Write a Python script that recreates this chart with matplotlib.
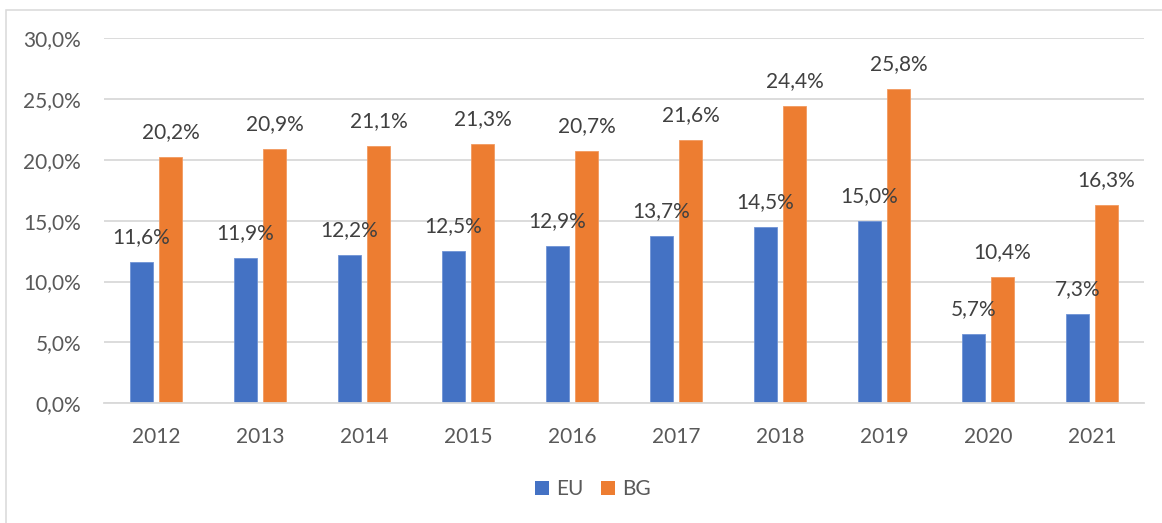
import matplotlib
matplotlib.use("Agg")
import matplotlib.pyplot as plt
from matplotlib.patches import Rectangle, Patch
import numpy as np

years = ["2012", "2013", "2014", "2015", "2016", "2017", "2018", "2019", "2020", "2021"]
eu = [11.6, 11.9, 12.2, 12.5, 12.9, 13.7, 14.5, 15.0, 5.7, 7.3]
bg = [20.2, 20.9, 21.1, 21.3, 20.7, 21.6, 24.4, 25.8, 10.4, 16.3]
yticks = [0, 5, 10, 15, 20, 25, 30]

BLUE = "#4472C4"
ORANGE = "#ED7D31"
GRID = "#D9D9D9"
TICK = "#595959"
LABEL = "#404040"

plt.rcParams["font.family"] = ["Lato", "DejaVu Sans"]

W, H = 1162, 523
fig = plt.figure(figsize=(W / 100, H / 100), dpi=100)

# chart area outline
fig.patches.append(Rectangle((5.5 / W, -0.2), 1.5, 1.2 - 9.5 / H + 0.0,
                             transform=fig.transFigure, fill=False,
                             edgecolor=GRID, linewidth=1.1))

left, right = 104 / W, 1144 / W
bottom, top = (H - 403.3) / H, (H - 37.9) / H
ax = fig.add_axes([left, bottom, right - left, top - bottom])

x = np.arange(len(years))
bw = 23 / 104
off = 14.5 / 104
b1 = ax.bar(x - off, eu, width=bw, color=BLUE, edgecolor="#6F93D6", linewidth=0.6, zorder=2, label="EU")
b2 = ax.bar(x + off, bg, width=bw, color=ORANGE, edgecolor="#F29A60", linewidth=0.6, zorder=2, label="BG")

def fmt(v):
    return f"{v:.1f}".replace(".", ",") + "%"

for bars, vals in ((b1, eu), (b2, bg)):
    for rect, v in zip(bars, vals):
        ax.annotate(fmt(v), (rect.get_x() + rect.get_width() / 2, v),
                    xytext=(0, 18), textcoords="offset points",
                    ha="center", va="center", fontsize=15, color=LABEL, zorder=5)

ax.set_xlim(-0.5, len(years) - 0.5)
ax.set_ylim(0, 30)
ax.set_yticks(yticks)
ax.set_yticklabels([f"{t},0%" for t in yticks])
ax.set_xticks(x)
ax.set_xticklabels(years)
ax.tick_params(axis="y", length=0, pad=16.5, labelsize=15, labelcolor=TICK)
ax.tick_params(axis="x", length=0, pad=17, labelsize=15, labelcolor=TICK)
ax.grid(axis="y", color=GRID, linewidth=1.3, zorder=0)
ax.set_axisbelow(True)
for s in ("top", "right", "left"):
    ax.spines[s].set_visible(False)
ax.spines["bottom"].set_color(GRID)
ax.spines["bottom"].set_linewidth(1.3)

handles = [Patch(facecolor=BLUE, label="EU"), Patch(facecolor=ORANGE, label="BG")]
fig.legend(handles=handles, loc="center", bbox_to_anchor=(593 / W, 1 - 489 / H),
           ncol=2, frameon=False, fontsize=15, labelcolor=TICK,
           handlelength=0.67, handleheight=0.67, handletextpad=0.35,
           columnspacing=0.8, borderpad=0)

fig.savefig("out.png", dpi=100)
